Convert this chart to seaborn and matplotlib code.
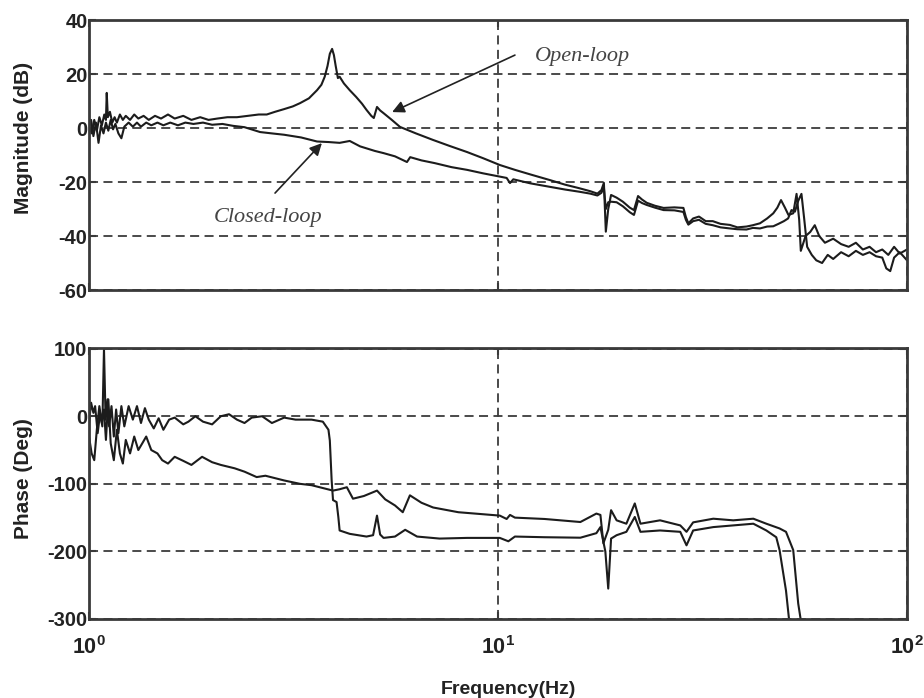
import matplotlib
matplotlib.use('Agg')
import matplotlib.pyplot as plt
import seaborn as sns
import pandas as pd
from matplotlib.ticker import NullLocator

# ---------------- data ----------------
mag_ol_freq = [1.00, 1.015, 1.03, 1.045, 1.06, 1.075, 1.09, 1.100, 1.105, 1.112, 1.125, 1.14, 1.155, 1.17,
               1.19, 1.21, 1.23, 1.26, 1.29, 1.32, 1.36, 1.40, 1.45, 1.50, 1.56, 1.62, 1.70, 1.78, 1.87,
               1.96, 2.06, 2.18, 2.30, 2.45, 2.60, 2.72, 2.85, 3.00, 3.15, 3.28, 3.45, 3.61, 3.70, 3.77,
               3.83, 3.88, 3.93, 3.97, 4.01, 4.06, 4.10, 4.20, 4.34, 4.50, 4.65, 4.77, 4.90, 4.97, 5.06,
               5.15, 5.25, 5.50, 5.76, 6.30, 6.93, 7.60, 8.40, 9.20, 10.1, 11.0, 12.0, 13.4, 14.6, 15.8,
               16.8, 17.5, 17.9, 18.15, 18.35, 18.6, 18.9, 19.5, 20.2, 21.0, 21.5, 22.0, 22.5, 23.1, 24.2,
               25.4, 27.0, 28.4, 28.8, 29.2, 30.0, 31.0, 32.2, 33.5, 35.0, 36.9, 38.5, 40.5, 42.0, 43.7,
               45.5, 47.1, 48.2, 49.2, 50.3, 51.3, 52.7, 53.7, 54.5, 55.0, 56.5, 58.0, 59.5, 61.0, 63.0,
               66.0, 69.0, 72.0, 75.0, 78.0, 81.0, 84.0, 87.0, 90.0, 93.0, 96.0, 100.0]
mag_ol_db = [1, -2, 3, -1, 4, 1, 5, 3, 13, 4, 6, 2, 4, 2,
             5, 3, 4.5, 3, 5, 3.5, 4.5, 3, 4.5, 3.5, 5, 3.5, 4.5, 3, 4,
             3, 3.5, 4, 4, 4.5, 5, 5, 6, 7, 8, 9.2, 11, 14, 16, 19,
             23, 27.5, 29.3, 27, 23, 18.5, 19, 16.5, 14, 11.5, 9, 6.7, 4.5, 3.7, 7.8,
             6.5, 5.5, 3, 0.4, -2, -4.4, -6.6, -8.9, -11.2, -13.7, -15.5, -17.2, -19.3, -21, -22.3,
             -23.4, -24.3, -23, -20.3, -38.4, -30, -24.8, -25.8, -27.3, -29.5, -30.4, -25.2, -26.5, -27.7, -28.8,
             -29.6, -29.4, -29.6, -33, -35.3, -33.5, -32.8, -34.5, -34.5, -35.5, -35.9, -36.8, -36.5, -36, -35.3,
             -33.5, -31.6, -29.5, -26.7, -29.5, -32.2, -31.6, -24.4, -34, -45.5, -40, -38.5, -36, -40, -42.5,
             -41, -43, -44, -42.5, -45, -44, -46, -45, -47, -44, -46.5, -45]

mag_cl_freq = [1.00, 1.012, 1.025, 1.04, 1.055, 1.07, 1.085, 1.10, 1.115, 1.13, 1.145, 1.16, 1.18, 1.20,
               1.22, 1.25, 1.28, 1.31, 1.34, 1.38, 1.42, 1.47, 1.52, 1.58, 1.65, 1.72, 1.80, 1.90, 2.00,
               2.12, 2.25, 2.40, 2.62, 2.80, 3.00, 3.30, 3.61, 3.85, 4.10, 4.34, 4.60, 5.00, 5.25, 5.60,
               5.99, 6.10, 6.50, 7.00, 7.70, 8.40, 9.20, 10.1, 10.5, 10.7, 10.9, 12.0, 13.4, 14.6, 15.8,
               16.8, 17.5, 17.9, 18.15, 18.35, 18.6, 18.9, 19.5, 20.2, 21.0, 21.5, 22.0, 22.5, 23.1, 24.2,
               25.4, 27.0, 28.4, 28.8, 29.2, 30.0, 31.0, 32.2, 33.5, 35.0, 36.9, 38.5, 40.5, 42.0, 43.7,
               45.5, 47.1, 48.5, 50.0, 51.2, 52.2, 53.2, 54.2, 55.2, 56.0, 57.0, 58.5, 60.0, 62.0, 64.0,
               66.0, 69.0, 72.0, 75.0, 78.0, 81.0, 84.0, 87.0, 89.0, 91.0, 93.0, 96.0, 100.0]
mag_cl_db = [0, 3, -3, 2, -5.5, 1, -2, 2, -1, 3, -0.5, 1.5, -2, -3.8,
             0.5, 2, 0.5, 2, 0.5, 2, 1, 2, 1, 2, 1, 2, 1.5, 2, 1.2,
             1.5, 0.8, 0.3, -1.5, -2, -2.5, -3.5, -5, -5.2, -5.5, -4.8, -6.8, -8.5, -9.3, -10.5,
             -12.6, -10.8, -12, -13, -14.5, -15.5, -16.8, -18, -18.5, -20.4, -19, -20.5, -21.8, -22.8, -23.6,
             -24.3, -25, -24, -22, -30, -27.5, -27.3, -27.5, -29, -31.2, -32.2, -26.9, -27.8, -28.5, -29.5,
             -30.4, -30.5, -31.1, -34, -35.8, -34.5, -34, -35.5, -36, -36.8, -37.2, -37.5, -37.6, -37, -37.2,
             -36.5, -36.4, -35.5, -34.5, -33.5, -30.4, -31, -27, -24.4, -33, -44, -47, -49, -50, -47,
             -48.5, -46, -47.5, -45.5, -47, -46, -47.5, -48, -52, -53, -48, -46, -49]

ph_ol_freq = [1.00, 1.012, 1.025, 1.035, 1.05, 1.065, 1.078, 1.088, 1.098, 1.11, 1.12, 1.135, 1.15, 1.165,
              1.18, 1.20, 1.22, 1.25, 1.28, 1.31, 1.34, 1.37, 1.40, 1.44, 1.48, 1.52, 1.57, 1.62, 1.70,
              1.75, 1.82, 1.90, 2.00, 2.10, 2.20, 2.30, 2.40, 2.50, 2.65, 2.80, 3.00, 3.20, 3.50, 3.73,
              3.85, 3.88, 3.92, 3.95, 4.03, 4.07, 4.10, 4.34, 4.77, 4.95, 5.06, 5.15, 5.25, 5.60, 5.93,
              6.34, 7.20, 8.40, 10.1, 10.6, 11.0, 13.0, 15.9, 17.4, 17.8, 18.3, 18.6, 18.9, 19.5, 20.6,
              21.6, 22.3, 24.9, 27.9, 28.9, 30.0, 33.6, 37.6, 42.1, 45.3, 47.9, 48.8, 50.6, 51.4, 52.0]
ph_ol_deg = [-10, 20, 5, 15, -25, 5, -15, 100, -5, 25, -15, 15, -30, 10,
             -25, 15, -15, 15, -5, 15, -10, 12, -5, -18, -3, -20, -5, -2, -12,
             -8, 0, -8, -12, 0, 3, -5, -10, -2, 0, -10, -2, -5, -5, -8,
             -20, -36, -95, -124, -127, -149, -169, -174, -178, -176, -147, -175, -180, -178, -168,
             -178, -181, -180, -180, -185, -178, -179, -179.7, -173, -164, -200, -255, -181, -176, -171,
             -149, -171, -169, -171, -191, -169, -164, -161.5, -159, -169, -179, -198, -258, -297, -320]

ph_cl_freq = [1.00, 1.015, 1.03, 1.045, 1.06, 1.075, 1.088, 1.10, 1.115, 1.13, 1.15, 1.17, 1.19, 1.21,
              1.23, 1.26, 1.29, 1.32, 1.35, 1.38, 1.42, 1.47, 1.51, 1.56, 1.62, 1.70, 1.78, 1.89, 2.00,
              2.10, 2.27, 2.40, 2.57, 2.70, 3.00, 3.28, 3.50, 3.95, 4.10, 4.27, 4.42, 4.70, 5.06, 5.30,
              5.60, 5.85, 6.09, 6.50, 6.94, 8.00, 10.1, 10.5, 10.7, 11.0, 13.0, 15.9, 17.4, 17.8, 18.1,
              18.6, 18.9, 19.5, 20.6, 21.6, 22.3, 24.9, 27.9, 28.9, 30.0, 33.6, 37.6, 42.1, 45.3, 48.8,
              50.6, 52.7, 54.2, 55.1, 55.6]
ph_cl_deg = [-30, -55, -65, -20, 15, -10, 10, -35, 25, -40, -65, -20, -55, -70,
             -35, -55, -30, -50, -40, -30, -50, -55, -65, -70, -60, -66, -72, -60, -68,
             -72, -77, -82, -90, -88, -95, -100, -102, -110, -108, -105, -122, -118, -110, -123,
             -132, -142, -117, -128, -135, -142, -147, -152, -146, -150, -152, -156.5, -144, -146, -188,
             -168, -139, -154, -159, -129, -159, -154, -161.5, -171, -157, -151.6, -154, -151.6, -159, -166,
             -171, -198, -277, -305, -320]

mag_ticks = [-60, -40, -20, 0, 20, 40]
phase_ticks = [-300, -200, -100, 0, 100]
freq_ticks = [1, 10, 100]
freq_ticklabels = [r'$\mathbf{10^{0}}$', r'$\mathbf{10^{1}}$', r'$\mathbf{10^{2}}$']

assert len(mag_ol_freq) == len(mag_ol_db)
assert len(mag_cl_freq) == len(mag_cl_db)
assert len(ph_ol_freq) == len(ph_ol_deg)
assert len(ph_cl_freq) == len(ph_cl_deg)

# ---------------- style ----------------
sns.set_style('ticks')
plt.rcParams['font.family'] = ['Liberation Sans', 'DejaVu Sans']
plt.rcParams['axes.unicode_minus'] = False
plt.rcParams['mathtext.fontset'] = 'custom'
plt.rcParams['mathtext.bf'] = 'Liberation Sans:bold'
plt.rcParams['mathtext.rm'] = 'Liberation Sans:bold'

LINE = '#1c1c1c'
FRAME = '#3a3a3a'
TXT = '#222222'
W, H = 924, 698
fig = plt.figure(figsize=(W / 100, H / 100), dpi=100)
ax1 = fig.add_axes([89 / W, 1 - 290 / H, (907 - 89) / W, 270 / H])
ax2 = fig.add_axes([89 / W, 1 - 619 / H, (907 - 89) / W, 271 / H])

for ax in (ax1, ax2):
    ax.set_xscale('log')

df_mo = pd.DataFrame({'f': mag_ol_freq, 'v': mag_ol_db})
df_mc = pd.DataFrame({'f': mag_cl_freq, 'v': mag_cl_db})
df_po = pd.DataFrame({'f': ph_ol_freq, 'v': ph_ol_deg})
df_pc = pd.DataFrame({'f': ph_cl_freq, 'v': ph_cl_deg})

kw = dict(x='f', y='v', color=LINE, linewidth=1.5, estimator=None, sort=False, legend=False)
sns.lineplot(data=df_mo, ax=ax1, **kw)
sns.lineplot(data=df_mc, ax=ax1, **kw)
sns.lineplot(data=df_po, ax=ax2, **kw)
sns.lineplot(data=df_pc, ax=ax2, **kw)

ax1.set_ylim(-60, 40)
ax2.set_ylim(-300, 101)
for ax, yt in ((ax1, mag_ticks), (ax2, phase_ticks)):
    ax.set_xlim(1, 100)
    ax.set_xticks(freq_ticks)
    ax.xaxis.set_minor_locator(NullLocator())
    ax.set_yticks(yt)
    ax.set_yticklabels([str(t) for t in yt], fontsize=14.5, fontweight='bold', color=TXT)
    ax.grid(True, which='major', linestyle=(0, (5, 3)), color='#3c3c3c', linewidth=1.3)
    ax.tick_params(direction='in', length=5, width=1.5, top=True, right=True,
                   colors=FRAME, labelcolor=TXT, pad=1)
    for s in ax.spines.values():
        s.set_linewidth(2)
        s.set_color(FRAME)
    ax.set_xlabel('')
    ax.set_ylabel('')

ax1.tick_params(labelbottom=False)
ax2.set_xticklabels(freq_ticklabels, fontsize=15.5)
ax2.tick_params(axis='x', pad=12)

ax1.set_ylabel('Magnitude (dB)', fontsize=15, fontweight='bold', color=TXT)
ax1.yaxis.set_label_coords(-0.0685, 0.565)
ax2.set_ylabel('Phase (Deg)', fontsize=15, fontweight='bold', color=TXT)
ax2.yaxis.set_label_coords(-0.0685, 0.518)
ax2.set_xlabel('Frequency(Hz)', fontsize=14, fontweight='bold', color=TXT)
ax2.xaxis.label.set_va('center')
ax2.xaxis.set_label_coords(0.513, -0.26)

# annotations
arrow = dict(arrowstyle='-|>', color=TXT, lw=1.2, mutation_scale=18, shrinkA=0, shrinkB=0)
ax1.annotate('', xy=(5.51, 5.9), xytext=(11.0, 27), arrowprops=arrow)
ax1.text(12.3, 26.3, 'Open-loop', family='Liberation Serif', style='italic', fontsize=16,
         color='#444444', va='center', ha='left')
ax1.annotate('', xy=(3.71, -5.6), xytext=(2.85, -24.1), arrowprops=arrow)
ax1.text(2.74, -33, 'Closed-loop', family='Liberation Serif', style='italic', fontsize=16,
         color='#444444', va='center', ha='center')

fig.savefig('out.png', dpi=100)
